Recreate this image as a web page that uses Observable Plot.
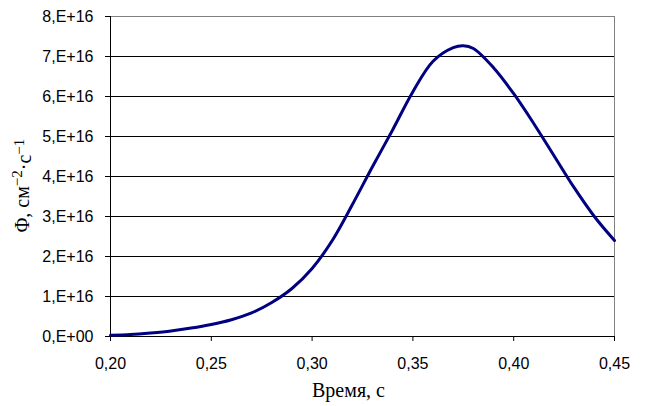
<!DOCTYPE html>
<html>
<head>
<meta charset="utf-8">
<script src="https://cdn.jsdelivr.net/npm/d3@7"></script>
<script src="https://cdn.jsdelivr.net/npm/@observablehq/plot@0.6"></script>
<style>
  html, body { margin: 0; padding: 0; background: white; }
</style>
</head>
<body>
<div id="chart"></div>
<script>
// Time, s
const time = [0.20, 0.21, 0.22, 0.23, 0.24, 0.25, 0.26, 0.27, 0.28, 0.29, 0.30, 0.31, 0.32, 0.33, 0.34, 0.35, 0.36, 0.37, 0.375, 0.38, 0.39, 0.40, 0.41, 0.42, 0.43, 0.44, 0.45];
// Flux, units of 1E16 cm^-2 s^-1
const flux = [0.03, 0.05, 0.09, 0.14, 0.21, 0.30, 0.42, 0.59, 0.85, 1.20, 1.70, 2.40, 3.30, 4.25, 5.17, 6.12, 6.88, 7.22, 7.27, 7.20, 6.72, 6.07, 5.32, 4.52, 3.72, 3.00, 2.40];

const xTicks = [0.20, 0.25, 0.30, 0.35, 0.40, 0.45];
const yTicks = [0, 1, 2, 3, 4, 5, 6, 7, 8];
const xTitle = "Время, с";
const yTitle = "Φ, см−2·с−1";
const yTitleParts = [["Φ, см", false], ["−2", true], ["·с", false], ["−1", true]];

const fmtX = d => d3.format(".2f")(d).replace(".", ",");
const fmtY = d => d === 0 ? "0,E+00" : `${d},E+16`;
const serif = "'Liberation Serif', 'Times New Roman', serif";

const chart = Plot.plot({
  width: 645,
  height: 406,
  marginTop: 16,
  marginLeft: 110,
  marginRight: 31,
  marginBottom: 70,
  x: { domain: [0.20, 0.45] },
  y: { domain: [0, 8] },
  style: { fontFamily: "'Liberation Sans', Arial, sans-serif", fontSize: "16px", background: "white", color: "black" },
  marks: [
    Plot.ruleY(yTicks.filter(d => d > 0 && d < 8), { stroke: "black", strokeWidth: 1 }),
    Plot.ruleY([8], { stroke: "#808080", strokeWidth: 1 }),
    Plot.ruleX([0.45], { stroke: "#808080", strokeWidth: 1 }),
    Plot.axisY({ ticks: yTicks, tickSize: 5, tickPadding: 12, tickFormat: fmtY, label: null, fontSize: 16 }),
    Plot.axisX({ ticks: xTicks, tickSize: 5, tickPadding: 16, tickFormat: fmtX, label: null, fontSize: 16 }),
    Plot.ruleX([0.20], { stroke: "black", strokeWidth: 1 }),
    Plot.ruleY([0], { stroke: "black", strokeWidth: 1 }),
    Plot.line(time, { x: time, y: flux, stroke: "#000080", strokeWidth: 3, curve: "catmull-rom" }),
    Plot.text([xTitle], { frameAnchor: "bottom", textAnchor: "middle", lineAnchor: "middle", dy: 54, dx: -14, fontFamily: serif, fontSize: 20, fill: "black" }),
    Plot.text([yTitle], { frameAnchor: "left", textAnchor: "middle", lineAnchor: "middle", dx: -88, dy: 9, rotate: -90, fontFamily: serif, fontSize: 20, fill: "black" })
  ]
});

// Render the y title with real superscripts
d3.select(chart).selectAll("text")
  .filter(function () { return this.textContent === yTitle; })
  .each(function () {
    const t = d3.select(this);
    t.text(null);
    let up = false;
    for (const [s, sup] of yTitleParts) {
      const ts = t.append("tspan").text(s);
      if (sup && !up) { ts.attr("dy", "-0.45em").attr("font-size", 15); up = true; }
      else if (sup) { ts.attr("font-size", 15); }
      else if (!sup && up) { ts.attr("dy", "0.45em"); up = false; }
    }
  });

document.getElementById("chart").appendChild(chart);
</script>
</body>
</html>
